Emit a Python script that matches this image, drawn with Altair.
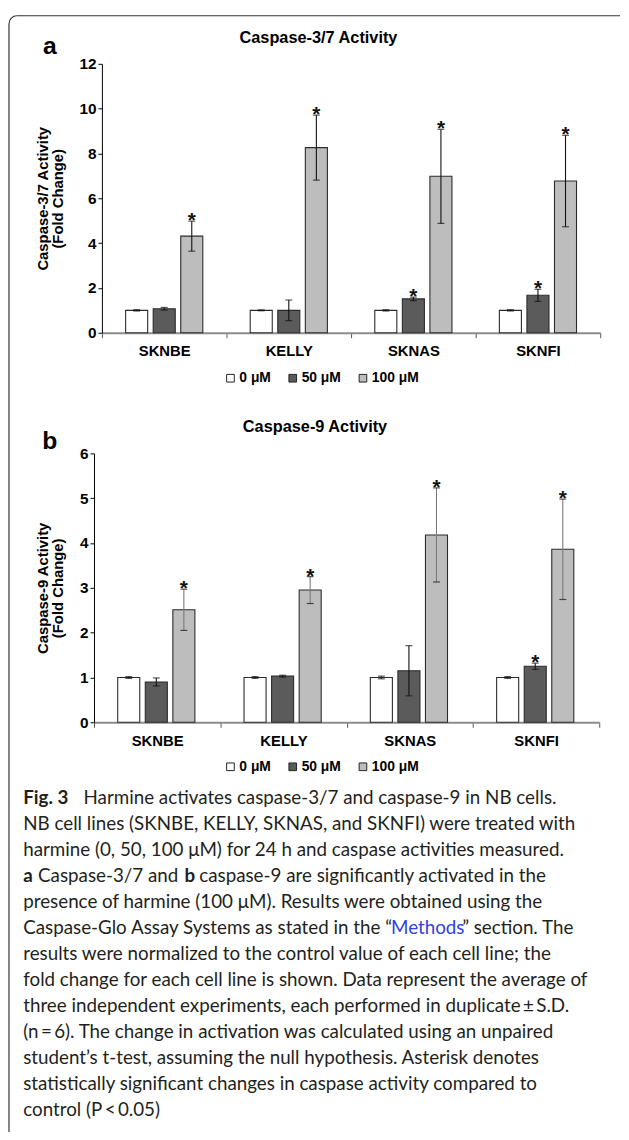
import altair as alt
import pandas as pd

FONT = "Liberation Sans"
CAPFONT = "Lato"
TXT = "#231f20"

cells = ["SKNBE", "KELLY", "SKNAS", "SKNFI"]
doses = ["0 μM", "50 μM", "100 μM"]
dose_colors = ["#ffffff", "#5b5b5b", "#bdbdbd"]

# Caspase-3/7 (panel a): mean fold change, S.D., significance
c37_mean_0 = [1.00, 1.00, 1.00, 1.00]
c37_mean_50 = [1.07, 1.00, 1.51, 1.67]
c37_mean_100 = [4.31, 8.26, 6.98, 6.77]
c37_err_0 = [0.03, 0.02, 0.03, 0.03]
c37_err_50 = [0.06, 0.46, 0.08, 0.27]
c37_err_100 = [0.67, 1.45, 2.10, 2.04]
c37_sig_0 = [0, 0, 0, 0]
c37_sig_50 = [0, 0, 1, 1]
c37_sig_100 = [1, 1, 1, 1]

# Caspase-9 (panel b)
c9_mean_0 = [1.00, 1.00, 1.00, 1.00]
c9_mean_50 = [0.90, 1.03, 1.15, 1.25]
c9_mean_100 = [2.51, 2.95, 4.18, 3.86]
c9_err_0 = [0.02, 0.02, 0.03, 0.02]
c9_err_50 = [0.09, 0.02, 0.56, 0.07]
c9_err_100 = [0.46, 0.30, 1.05, 1.12]
c9_sig_0 = [0, 0, 0, 0]
c9_sig_50 = [0, 0, 0, 1]
c9_sig_100 = [1, 1, 1, 1]

caption_plain = [
    (1, "NB cell lines (SKNBE, KELLY, SKNAS, and SKNFI) were treated with"),
    (2, "harmine (0, 50, 100 μM) for 24 h and caspase activities measured."),
    (4, "presence of harmine (100 μM). Results were obtained using the"),
    (6, "results were normalized to the control value of each cell line; the"),
    (7, "fold change for each cell line is shown. Data represent the average of"),
    (8, "three independent experiments, each performed in duplicate\u2009±\u2009S.D."),
    (9, "(n\u2009=\u20096). The change in activation was calculated using an unpaired"),
    (10, "student’s t-test, assuming the null hypothesis. Asterisk denotes"),
    (11, "statistically significant changes in caspase activity compared to"),
    (12, "control (P\u2009<\u20090.05)"),
]


def long_df(means, errs, sigs):
    rows = []
    for d, m, e, s in zip(doses, means, errs, sigs):
        for c, mv, ev, sv in zip(cells, m, e, s):
            rows.append({"cell": c, "dose": d, "mean": mv,
                         "lo": mv - ev, "hi": mv + ev, "sig": sv})
    return pd.DataFrame(rows)


df_a = long_df([c37_mean_0, c37_mean_50, c37_mean_100],
               [c37_err_0, c37_err_50, c37_err_100],
               [c37_sig_0, c37_sig_50, c37_sig_100])
df_b = long_df([c9_mean_0, c9_mean_50, c9_mean_100],
               [c9_err_0, c9_err_50, c9_err_100],
               [c9_sig_0, c9_sig_50, c9_sig_100])


def panel(df, ymax, ystep, title_text, ytitle, width, shift, title_dx, leg_x, leg_y, err_gray):
    x = alt.X("cell:N", sort=cells, title=None,
              scale=alt.Scale(paddingInner=0, paddingOuter=0, range=[shift, width]),
              axis=alt.Axis(labelFont=FONT, labelFontSize=15, labelFontWeight="bold",
                            labelColor="black", labelAngle=0, labelPadding=6,
                            tickSize=5, tickColor="#555555", tickBand="extent",
                            domainColor="#8c8c8c", domainWidth=2, grid=False))
    xo = alt.XOffset("dose:N", sort=doses,
                     scale=alt.Scale(domain=doses, paddingInner=0.2, paddingOuter=0.86))
    yscale = alt.Scale(domain=[0, ymax], nice=False)
    yaxis = alt.Axis(values=list(range(0, ymax + 1, ystep)), format="d", offset=-shift,
                     title=ytitle, titleFont=FONT, titleFontSize=15, titleFontWeight="bold",
                     titleColor="black", titlePadding=14, titleLineHeight=15,
                     labelFont=FONT, labelFontSize=15.5, labelFontWeight="bold",
                     labelColor="black", labelPadding=2, tickSize=4, tickColor="black",
                     domainColor="black", domainWidth=1, grid=False)
    bars = alt.Chart(df).mark_bar(stroke="#2b2b2b", strokeWidth=1.1).encode(
        x=x, xOffset=xo,
        y=alt.Y("mean:Q", scale=yscale, axis=yaxis),
        color=alt.Color("dose:N", scale=alt.Scale(domain=doses, range=dose_colors),
                        legend=alt.Legend(orient="none", legendX=leg_x, legendY=leg_y,
                                          direction="horizontal", title=None,
                                          symbolType="square", symbolSize=60,
                                          symbolStrokeColor="#222222", symbolStrokeWidth=1,
                                          labelFont=FONT, labelFontSize=14,
                                          labelFontWeight="bold", labelColor="black",
                                          labelOffset=2, columnPadding=15, padding=0)),
    )
    if err_gray:
        ecol = alt.condition("datum.dose == '100 μM'", alt.value("#7a7a7a"), alt.value("#111111"))
    else:
        ecol = alt.value("#111111")
    rules = alt.Chart(df).mark_rule(strokeWidth=1.1).encode(
        x=x, xOffset=xo,
        y=alt.Y("lo:Q", scale=yscale, axis=yaxis), y2="hi:Q", color=ecol)
    cap_hi = alt.Chart(df).mark_tick(color="#111111", thickness=1.2, size=7).encode(
        x=x, xOffset=xo, y=alt.Y("hi:Q", scale=yscale, axis=yaxis))
    cap_lo = alt.Chart(df).mark_tick(color="#111111", thickness=1.2, size=7).encode(
        x=x, xOffset=xo, y=alt.Y("lo:Q", scale=yscale, axis=yaxis))
    stars = alt.Chart(df).transform_filter("datum.sig == 1").mark_text(
        text="*", font=FONT, fontSize=21, fontWeight="bold", color="#111111",
        baseline="alphabetic", dy=6).encode(
        x=x, xOffset=xo, y=alt.Y("hi:Q", scale=yscale, axis=yaxis))
    return alt.layer(bars, rules, cap_hi, cap_lo, stars).properties(
        width=width, height=272,
        title=alt.TitleParams(text=title_text, font=FONT, fontSize=16.5, fontWeight="bold",
                              color="black", anchor="middle", dx=title_dx, offset=11))


panel_a = panel(df_a, 12, 2, "Caspase-3/7 Activity", ["Caspase-3/7 Activity", "(Fold Change)"],
                512, 8, -29, 131, 311, False)
panel_b = panel(df_b, 6, 1, "Caspase-9 Activity", ["Caspase-9 Activity", "(Fold Change)"],
                511, 0, -32, 131, 310, True)

one = pd.DataFrame({"k": [0]})

# caption block (also carries the panel letters and the frame); origin = page (94.6, 845.6)
cap_df = pd.DataFrame(caption_plain, columns=["i", "text"])
CAP_Y0 = -45.6
CAP_STEP = 26.33
cy = alt.Y("i:Q", scale=alt.Scale(domain=[0, 12], range=[CAP_Y0, CAP_Y0 + 12 * CAP_STEP]),
           axis=None)
CAPSIZE = 19
CX = 23 - 94.6


def seg(i, text, px, weight="normal", color=TXT):
    d = pd.DataFrame({"i": [i], "text": [text]})
    return alt.Chart(d).mark_text(align="left", baseline="middle", font=CAPFONT,
                                  fontSize=CAPSIZE, fontWeight=weight, color=color).encode(
        x=alt.value(px - 94.6), y=cy, text="text:N")


plain = alt.Chart(cap_df).mark_text(align="left", baseline="middle", font=CAPFONT,
                                    fontSize=CAPSIZE, color=TXT).encode(
    x=alt.value(CX), y=cy, text="text:N")

segs = [
    seg(0, "Fig. 3", 23, "bold"),
    seg(0, "Harmine activates caspase-3/7 and caspase-9 in NB cells.", 84),
    seg(3, "a", 23, "bold"),
    seg(3, "Caspase-3/7 and", 38),
    seg(3, "b", 186, "bold"),
    seg(3, "caspase-9 are significantly activated in the", 201),
    seg(5, "Caspase-Glo Assay Systems as stated in the “", 23),
    seg(5, "Methods", 395, color="#2f3fe0"),
    seg(5, "” section. The", 467),
]

OY = 845.6
frame_left = alt.Chart(one).mark_rule(color="#333333", strokeWidth=1.2).encode(
    x=alt.value(-86), y=alt.value(17 - OY), y2=alt.value(1138 - OY))
frame_top = alt.Chart(one).mark_rule(color="#333333", strokeWidth=1.2).encode(
    x=alt.value(-78), x2=alt.value(532), y=alt.value(9 - OY))
frame_arc = alt.Chart(one).mark_arc(radius=8.6, radius2=7.4, theta=4.712389, theta2=6.283185,
                                    color="#333333").encode(x=alt.value(-78), y=alt.value(17 - OY))
letter_a = alt.Chart(one).mark_text(text="a", font=FONT, fontSize=25, fontWeight="bold",
                                    color="black", align="center", baseline="alphabetic").encode(
    x=alt.value(50 - 94.6), y=alt.value(48 - OY))
letter_b = alt.Chart(one).mark_text(text="b", font=FONT, fontSize=25, fontWeight="bold",
                                    color="black", align="center", baseline="alphabetic").encode(
    x=alt.value(50 - 94.6), y=alt.value(447 - OY))

caption = alt.layer(plain, *segs, frame_left, frame_top, frame_arc, letter_a, letter_b).properties(
    width=500, height=270)

chart = alt.vconcat(panel_a, panel_b, caption, spacing=122, bounds="flush").resolve_scale(
    color="independent").resolve_legend(color="independent").properties(
    padding=0, background="white").configure_view(stroke=None)

chart.save("out.html", embed_options={"renderer": "svg", "actions": False})
